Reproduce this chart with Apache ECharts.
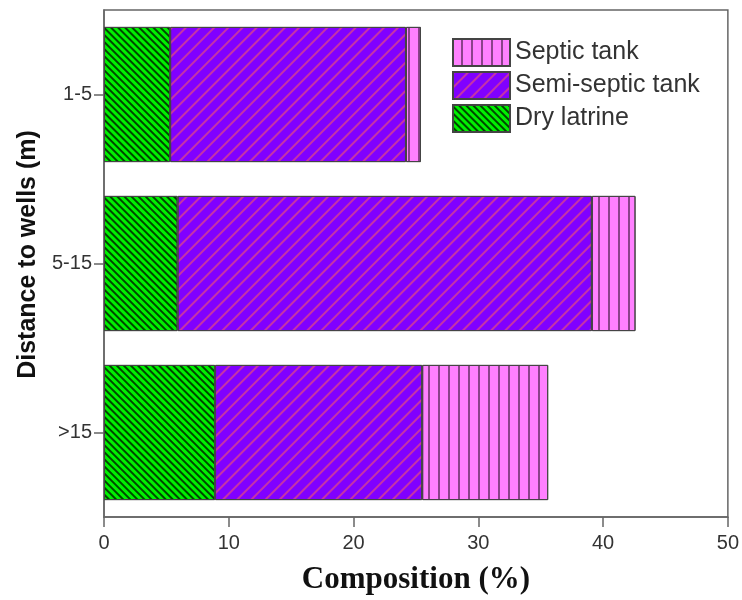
<!DOCTYPE html>
<html>
<head>
    <meta charset="utf-8"/>
    <script src="https://cdn.jsdelivr.net/npm/echarts@6/dist/echarts.min.js"></script>
    <style>
        html, body { margin: 0; padding: 0; background: #fff; }
        #main { width: 742px; height: 600px; }
    </style>
</head>
<body>
<div id="main"></div>
<script>
    // categories, bottom to top
    var distances = ['>15', '5-15', '1-5'];
    var dryLatrine = [8.9, 5.9, 5.3];
    var semiSeptic = [16.6, 33.2, 18.9];
    var septicTank = [10.1, 3.5, 1.2];
    var legendOrder = ['Septic tank', 'Semi-septic tank', 'Dry latrine'];

    var chart = echarts.init(document.getElementById('main'));

    var font = '"Liberation Sans", Arial, sans-serif';

    function barStyle(color, decal) {
        return {
            color: color,
            borderColor: '#444',
            borderWidth: 1,
            decal: decal
        };
    }

    var option = {
        backgroundColor: '#fff',
        animation: false,
        grid: {
            left: 104, right: 11, top: 10, bottom: 83,
            show: true, borderColor: '#666', borderWidth: 1.5
        },
        legend: {
            orient: 'vertical',
            left: 447, top: 33,
            icon: 'rect',
            itemWidth: 57, itemHeight: 27, itemGap: 4,
            data: legendOrder,
            textStyle: { fontFamily: font, fontSize: 25, color: '#333' }
        },
        xAxis: {
            type: 'value',
            min: 0, max: 50, interval: 10,
            splitLine: { show: false },
            axisLine: { show: true, lineStyle: { color: '#666', width: 1.5 } },
            axisTick: { show: true, length: 10, lineStyle: { color: '#666', width: 1.5 } },
            axisLabel: { fontFamily: font, fontSize: 20, color: '#333', margin: 16 },
            name: 'Composition (%)',
            nameLocation: 'middle',
            nameGap: 47,
            nameTextStyle: { fontFamily: '"Liberation Serif", "Times New Roman", serif', fontWeight: 'bold', fontSize: 31, color: '#111' }
        },
        yAxis: {
            type: 'category',
            data: distances,
            axisLine: { show: true, lineStyle: { color: '#666', width: 1.5 } },
            axisTick: { show: true, alignWithLabel: true, length: 10, lineStyle: { color: '#666', width: 1.5 } },
            axisLabel: { fontFamily: font, fontSize: 20, color: '#333', margin: 12 },
            name: 'Distance to wells (m)',
            nameLocation: 'middle',
            nameGap: 61,
            nameTextStyle: { fontFamily: font, fontWeight: 'bold', fontSize: 25, color: '#111', padding: [0, 0, 0, 18] }
        },
        series: [
            {
                name: 'Dry latrine', type: 'bar', stack: 'total', barWidth: '80%',
                data: dryLatrine,
                itemStyle: barStyle('#00f000', {
                    symbol: 'rect', symbolSize: 1,
                    dashArrayX: [1, 0], dashArrayY: [2, 3],
                    rotation: Math.PI / 4, color: 'rgba(0,40,0,0.85)'
                })
            },
            {
                name: 'Semi-septic tank', type: 'bar', stack: 'total',
                data: semiSeptic,
                itemStyle: barStyle('#8000ff', {
                    symbol: 'rect', symbolSize: 1,
                    dashArrayX: [1, 0], dashArrayY: [1.5, 8],
                    rotation: -Math.PI / 4, color: 'rgba(210,60,150,0.85)'
                })
            },
            {
                name: 'Septic tank', type: 'bar', stack: 'total',
                data: septicTank,
                itemStyle: barStyle('#ff80ff', {
                    symbol: 'rect', symbolSize: 1,
                    dashArrayX: [1, 0], dashArrayY: [1.5, 8],
                    rotation: Math.PI / 2, color: 'rgba(110,50,110,0.8)'
                })
            }
        ]
    };

    chart.setOption(option);
</script>
</body>
</html>
